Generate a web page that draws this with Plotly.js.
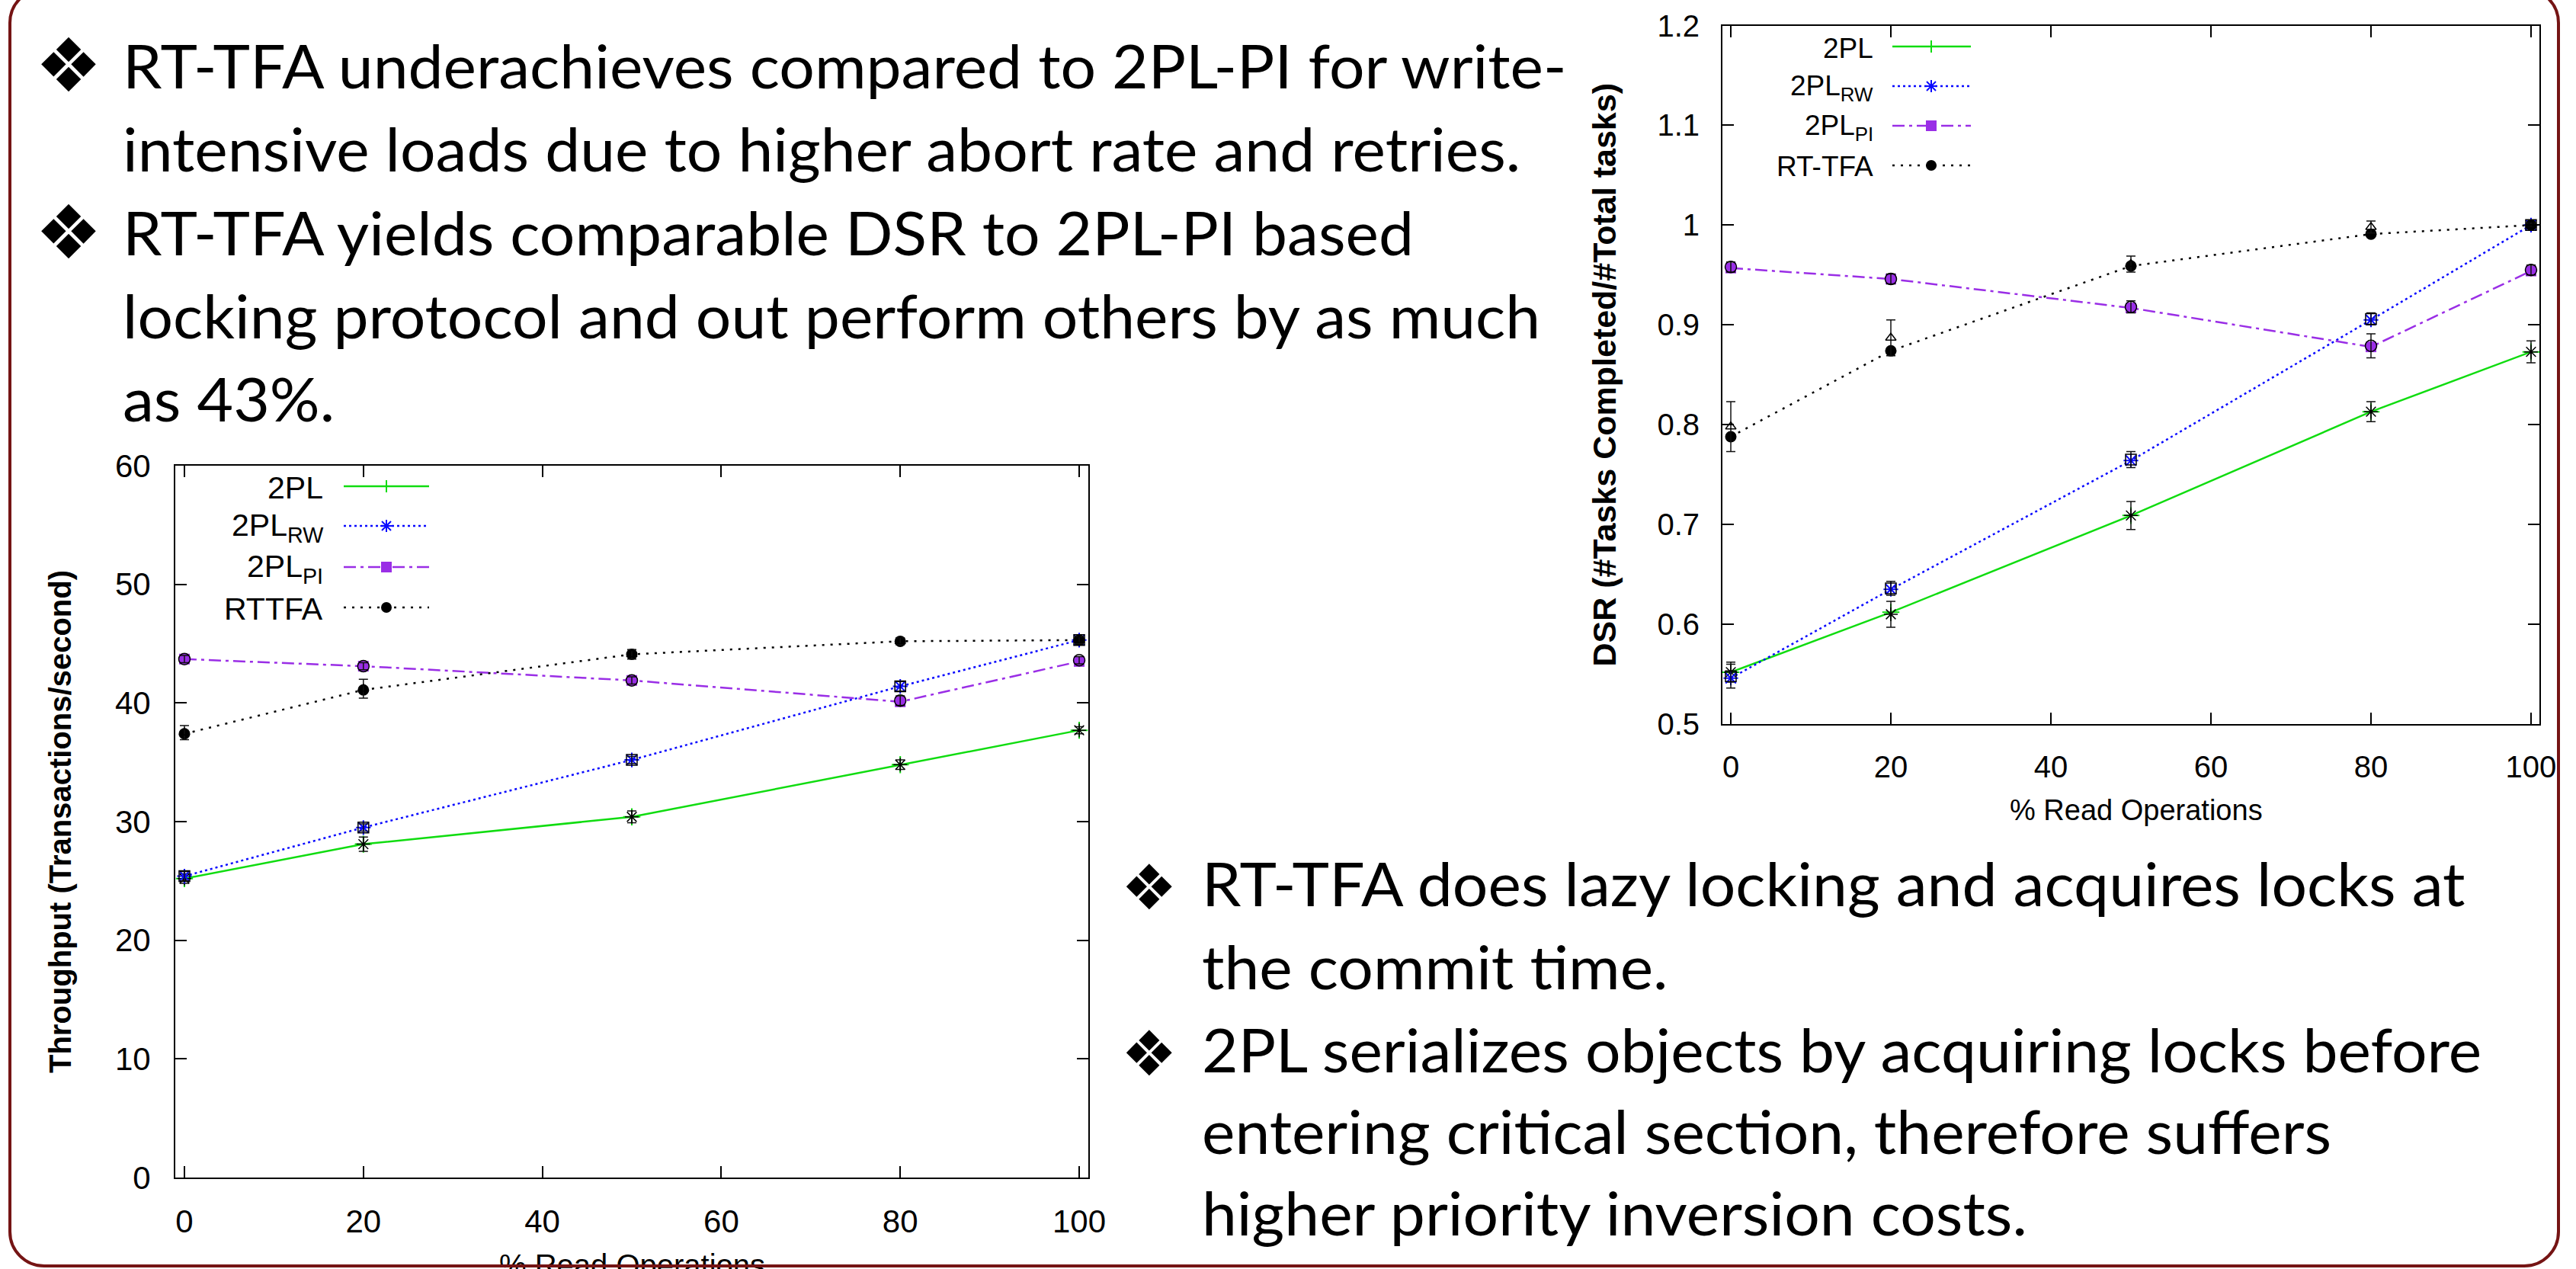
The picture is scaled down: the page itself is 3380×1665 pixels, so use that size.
<!DOCTYPE html>
<html><head><meta charset="utf-8">
<script src="https://cdn.plot.ly/plotly-3.0.1.min.js"></script>
<style>
html,body{margin:0;padding:0;background:#fff;}
#wrap{position:relative;width:3380px;height:1665px;overflow:hidden;background:#fff;}
#chart{position:absolute;left:0;top:0;width:3380px;height:1665px;}
#overlay{position:absolute;left:0;top:0;pointer-events:none;}
</style></head><body>
<div id="wrap"><div id="chart"></div>
<svg id="overlay" width="3380" height="1665" xmlns="http://www.w3.org/2000/svg"></svg></div>
<script>
// ---------------- data ----------------
const readPct = [0, 20, 50, 80, 100];
const xTicks = [0, 20, 40, 60, 80, 100];
const seriesLabels = ['2PL', '2PL<sub>RW</sub>', '2PL<sub>PI</sub>'];
const rtLabelDSR = 'RT-TFA';
const rtLabelTput = 'RTTFA';
const xTitle = '% Read Operations';

// DSR chart (right)
const dsr2PL   = [0.552, 0.612, 0.709, 0.813, 0.873];
const dsr2PLRW = [0.546, 0.635, 0.764, 0.905, 1.000];
const dsr2PLPI = [0.957, 0.946, 0.917, 0.878, 0.954];
const dsrRTTFA = [0.788, 0.874, 0.959, 0.991, 1.000];
const dsrMean2PL   = [0.552, 0.610, 0.709, 0.813, 0.873];
const dsrMean2PLRW = [0.548, 0.636, 0.765, 0.906, 1.000];
const dsrMean2PLPI = [0.958, 0.946, 0.918, 0.879, 0.955];
const dsrMeanRTTFA = [0.798, 0.887, 0.961, 0.998, 1.000];
const dsrErr2PL   = [0.010, 0.013, 0.014, 0.010, 0.011];
const dsrErr2PLRW = [0.012, 0.007, 0.008, 0.006, 0.002];
const dsrErr2PLPI = [0.005, 0.005, 0.006, 0.012, 0.005];
const dsrErrRTTFA = [0.025, 0.018, 0.008, 0.006, 0.002];
const dsrTicks = [0.5, 0.6, 0.7, 0.8, 0.9, 1.0, 1.1, 1.2];
const dsrTickText = ['0.5', '0.6', '0.7', '0.8', '0.9', '1', '1.1', '1.2'];

// Throughput chart (left)
const tput2PL   = [25.2, 28.1, 30.4, 34.8, 37.7];
const tput2PLRW = [25.4, 29.5, 35.2, 41.4, 45.3];
const tput2PLPI = [43.7, 43.1, 41.9, 40.1, 43.5];
const tputRTTFA = [37.4, 41.1, 44.1, 45.2, 45.3];
const tputMean2PL   = [25.2, 28.1, 30.4, 34.8, 37.7];
const tputMean2PLRW = [25.4, 29.5, 35.2, 41.4, 45.3];
const tputMean2PLPI = [43.7, 43.1, 41.9, 40.2, 43.6];
const tputMeanRTTFA = [37.5, 41.2, 44.1, 45.2, 45.3];
const tputErr2PL   = [0.4, 0.6, 0.5, 0.4, 0.3];
const tputErr2PLRW = [0.4, 0.3, 0.3, 0.4, 0.3];
const tputErr2PLPI = [0.3, 0.3, 0.3, 0.4, 0.3];
const tputErrRTTFA = [0.6, 0.8, 0.4, 0.3, 0.3];
const tputTicks = [0, 10, 20, 30, 40, 50, 60];

// ---------------- styling ----------------
const W = 3380, H = 1665;
const px = x => x / W, py = y => 1 - y / H;
const FONT = 'Liberation Sans, Arial, sans-serif';
const C = {pl: '#10dc10', rw: '#0a0aff', pi: '#9a2ee6', rt: '#000000'};
const DASH = {pl: 'solid', rw: '3px,4px', pi: '16px,6px,4px,6px', rt: '3px,8px'};

function seriesTraces(y, mean, err, key, xa, ya) {
  const mk = {
    pl: {symbol: 'cross-thin', size: 16, color: C.pl, line: {color: C.pl, width: 2}},
    rw: {symbol: 'asterisk', size: 16, color: C.rw, line: {color: C.rw, width: 2}},
    pi: {symbol: 'square', size: 14, color: C.pi, line: {width: 0}},
    rt: {symbol: 'circle', size: 15, color: C.rt, line: {width: 0}}
  }[key];
  const emk = {
    pl: {symbol: 'asterisk', size: 15, color: '#000', line: {color: '#000', width: 1.5}},
    rw: {symbol: 'square-open', size: 14, color: '#000', line: {color: '#000', width: 1.5}},
    pi: {symbol: 'circle-open', size: 15, color: '#000', line: {color: '#000', width: 1.5}},
    rt: {symbol: 'triangle-up-open', size: 12, color: '#000', line: {color: '#000', width: 1.5}}
  }[key];
  return [
    {x: readPct, y: y, xaxis: xa, yaxis: ya, type: 'scatter', mode: 'lines+markers',
     line: {color: C[key], width: 2.5, dash: DASH[key]}, marker: mk, showlegend: false, hoverinfo: 'skip'},
    {x: readPct, y: mean, xaxis: xa, yaxis: ya, type: 'scatter', mode: 'markers',
     marker: emk, showlegend: false, hoverinfo: 'skip',
     error_y: {type: 'data', array: err, visible: true, color: '#111', thickness: 1.5, width: 6}}
  ];
}

const data = [].concat(
  seriesTraces(tput2PL, tputMean2PL, tputErr2PL, 'pl', 'x', 'y'),
  seriesTraces(tput2PLRW, tputMean2PLRW, tputErr2PLRW, 'rw', 'x', 'y'),
  seriesTraces(tput2PLPI, tputMean2PLPI, tputErr2PLPI, 'pi', 'x', 'y'),
  seriesTraces(tputRTTFA, tputMeanRTTFA, tputErrRTTFA, 'rt', 'x', 'y'),
  seriesTraces(dsr2PL, dsrMean2PL, dsrErr2PL, 'pl', 'x2', 'y2'),
  seriesTraces(dsr2PLRW, dsrMean2PLRW, dsrErr2PLRW, 'rw', 'x2', 'y2'),
  seriesTraces(dsr2PLPI, dsrMean2PLPI, dsrErr2PLPI, 'pi', 'x2', 'y2'),
  seriesTraces(dsrRTTFA, dsrMeanRTTFA, dsrErrRTTFA, 'rt', 'x2', 'y2')
);

function axis(o) {
  return Object.assign({
    ticks: 'inside', ticklen: 15, tickwidth: 2, tickcolor: '#000',
    showline: true, linecolor: '#000', linewidth: 2, mirror: 'ticks',
    showgrid: false, zeroline: false, automargin: false, fixedrange: true
  }, o);
}

const layout = {
  width: W, height: H,
  margin: {l: 0, r: 0, t: 0, b: 0, pad: 0},
  paper_bgcolor: 'rgba(0,0,0,0)', plot_bgcolor: 'rgba(0,0,0,0)',
  showlegend: false,
  font: {family: FONT, color: '#000'},
  xaxis: axis({domain: [px(230), px(1428)], range: [-1.02, 101.02], anchor: 'y',
    tickvals: xTicks, tickfont: {family: FONT, size: 42}, ticklabelstandoff: 20}),
  yaxis: axis({domain: [py(1545), py(611)], range: [0, 60], anchor: 'x',
    tickvals: tputTicks, tickfont: {family: FONT, size: 42}, ticklabelstandoff: 22,
    title: {text: 'Throughput (Transactions/second)', font: {family: FONT, size: 40, weight: 'bold'}, standoff: 45}}),
  xaxis2: axis({domain: [px(2260), px(3332)], range: [-1.05, 101.05], anchor: 'y2',
    tickvals: xTicks, tickfont: {family: FONT, size: 40}, ticklabelstandoff: 20}),
  yaxis2: axis({domain: [py(950), py(33.5)], range: [0.5, 1.2], anchor: 'x2',
    tickvals: dsrTicks, ticktext: dsrTickText, tickfont: {family: FONT, size: 40}, ticklabelstandoff: 20,
    title: {text: 'DSR (#Tasks Completed/#Total tasks)', font: {family: FONT, size: 43, weight: 'bold'}, standoff: 40}}),
  shapes: [], annotations: []
};

// x-axis titles (placed as annotations for exact vertical position)
layout.annotations.push({xref: 'paper', yref: 'paper', x: px(829), y: py(1636), xanchor: 'center', yanchor: 'top',
  showarrow: false, text: xTitle, font: {family: FONT, size: 40, color: '#000'}});
layout.annotations.push({xref: 'paper', yref: 'paper', x: px(2803), y: py(1040), xanchor: 'center', yanchor: 'top',
  showarrow: false, text: xTitle, font: {family: FONT, size: 38, color: '#000'}});

// ---------------- custom legends (text left, sample right) ----------------
function legend(rows, labels, edge, lx1, lx2, mx, fs) {
  const keys = ['pl', 'rw', 'pi', 'rt'];
  keys.forEach((k, i) => {
    const ry = rows[i];
    layout.annotations.push({xref: 'paper', yref: 'paper', x: px(edge), y: py(ry + 2),
      xanchor: 'right', yanchor: 'middle', showarrow: false, text: labels[i],
      font: {family: FONT, size: fs, color: '#000'}});
    layout.shapes.push({type: 'line', xref: 'paper', yref: 'paper', x0: px(lx1), x1: px(lx2),
      y0: py(ry), y1: py(ry), line: {color: C[k], width: 2.5, dash: DASH[k]}});
    const s = 8;
    const L = (x0, y0, x1, y1) => layout.shapes.push({type: 'line', xref: 'paper', yref: 'paper',
      x0: px(x0), y0: py(y0), x1: px(x1), y1: py(y1), line: {color: C[k], width: 2}});
    if (k === 'pl') { L(mx, ry - s, mx, ry + s); }
    if (k === 'rw') { L(mx, ry - s, mx, ry + s); L(mx - s, ry, mx + s, ry);
      L(mx - 6, ry - 6, mx + 6, ry + 6); L(mx - 6, ry + 6, mx + 6, ry - 6); }
    if (k === 'pi') layout.shapes.push({type: 'rect', xref: 'paper', yref: 'paper',
      x0: px(mx - 7), x1: px(mx + 7), y0: py(ry - 7), y1: py(ry + 7), fillcolor: C.pi, line: {width: 0}});
    if (k === 'rt') layout.shapes.push({type: 'circle', xref: 'paper', yref: 'paper',
      x0: px(mx - 7), x1: px(mx + 7), y0: py(ry - 7), y1: py(ry + 7), fillcolor: C.rt, line: {width: 0}});
  });
}
legend([638, 690, 744, 797], seriesLabels.concat([rtLabelTput]), 426, 451, 563, 507, 41);
legend([61, 113, 165, 217], seriesLabels.concat([rtLabelDSR]), 2460, 2483, 2586, 2534, 37);

Plotly.newPlot('chart', data, layout, {staticPlot: true, displayModeBar: false});

// ---------------- slide text & frame ----------------
const block1 = [
  [true, 'RT-TFA underachieves compared to 2PL-PI for write-'],
  [false, 'intensive loads due to higher abort rate and retries.'],
  [true, 'RT-TFA yields comparable DSR to 2PL-PI based'],
  [false, 'locking protocol and out perform others by as much'],
  [false, 'as 43%.']
];
const block2 = [
  [true, 'RT-TFA does lazy locking and acquires locks at'],
  [false, 'the commit time.'],
  [true, '2PL serializes objects by acquiring locks before'],
  [false, 'entering critical section, therefore suffers'],
  [false, 'higher priority inversion costs.']
];
const NS = 'http://www.w3.org/2000/svg';
const ov = document.getElementById('overlay');
function el(tag, attrs, txt) {
  const e = document.createElementNS(NS, tag);
  for (const k in attrs) e.setAttribute(k, attrs[k]);
  if (txt != null) e.textContent = txt;
  ov.appendChild(e); return e;
}
el('rect', {x: 13, y: -15, width: 3344, height: 1676, rx: 45, ry: 45, fill: 'none', stroke: '#751414', 'stroke-width': 4});
const TFS = 79;
const probe = el('text', {x: 0, y: -300, 'font-family': 'Lato', 'font-size': TFS}, block1[0][1]);
const sx = 1895 / probe.getComputedTextLength();
probe.remove();
function block(lines, tx, bx, baselines, bfs) {
  lines.forEach((ln, i) => {
    const by = baselines[i];
    if (ln[0]) el('text', {x: bx, y: by + 4, 'font-family': 'DejaVu Sans', 'font-size': bfs, fill: '#000'}, '\u2756');
    el('text', {x: 0, y: 0, transform: `translate(${tx},${by}) scale(${sx},1)`,
      'font-family': 'Lato', 'font-size': TFS, fill: '#000'}, ln[1]);
  });
}
block(block1, 161, 46, [116, 225, 335, 444, 553], 98);
block(block2, 1577, 1471, [1189, 1298, 1407, 1514, 1621], 82);
</script>
</body></html>
